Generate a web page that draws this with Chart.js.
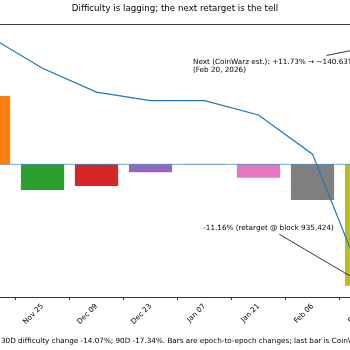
<!DOCTYPE html>
<html>
<head>
<meta charset="utf-8">
<script src="https://cdn.jsdelivr.net/npm/chart.js@4.4.1/dist/chart.umd.min.js"></script>
<style>
  html, body { margin: 0; padding: 0; background: #fff; }
  #wrap { width: 350px; height: 350px; }
</style>
</head>
<body>
<div id="wrap"><canvas id="chart" width="350" height="350"></canvas></div>
<script>
// epoch dates (x categories), epoch-to-epoch difficulty change (%), difficulty (T)
const epochDates = ['Oct 28', 'Nov 11', 'Nov 25', 'Dec 09', 'Dec 23', 'Jan 07', 'Jan 21', 'Feb 06', 'Feb 07', 'Feb 20'];
const epochChange = [1.6, 6.29, -2.36, -1.99, -0.74, 0.03, -1.23, -3.28, -11.16, 11.73];
const difficultyT = [146.5, 155.7, 151.9, 149.1, 148.1, 148.1, 146.4, 141.8, 125.9];
const barColors = ['#1f77b4', '#ff7f0e', '#2ca02c', '#d62728', '#9467bd', '#8c564b', '#e377c2', '#7f7f7f', '#bcbd22', '#17becf'];

const chartTitle = 'Difficulty is lagging; the next retarget is the tell';
const footNote = '30D difficulty change -14.07%; 90D -17.34%. Bars are epoch-to-epoch changes; last bar is CoinWarz estimate.';
const retargetNote = ['-11.16% (retarget @ block 935,424)'];
const nextNote = ['Next (CoinWarz est.): +11.73% \u2192 ~140.63T', '(Feb 20, 2026)'];

const FONT = 'DejaVu Sans';

const extras = {
    id: 'extras',
    afterDatasetDraw(chart, args) {
        if (args.index !== 0) return;
        const { ctx, chartArea, scales } = chart;
        const y0 = scales.y.getPixelForValue(0);
        ctx.save();
        ctx.strokeStyle = 'rgba(31, 119, 180, 0.5)';
        ctx.lineWidth = 1.2;
        ctx.beginPath();
        ctx.moveTo(chartArea.left, y0);
        ctx.lineTo(chartArea.right, y0);
        ctx.stroke();
        ctx.restore();
    },
    afterDraw(chart) {
        const { ctx, chartArea, scales } = chart;
        const x = scales.x;
        const y = scales.y;
        ctx.save();

        // top spine
        ctx.strokeStyle = '#000';
        ctx.lineWidth = 0.8;
        ctx.beginPath();
        ctx.moveTo(chartArea.left, chartArea.top + 0.5);
        ctx.lineTo(chartArea.right, chartArea.top + 0.5);
        ctx.stroke();

        // annotations with a plain connector line
        const lineH = 8.7;
        ctx.font = `7.24px "${FONT}"`;
        ctx.fillStyle = '#000';
        ctx.textBaseline = 'middle';
        const notes = [
            { lines: retargetNote, at: [6.185, -5.85], align: 'center', target: [8, epochChange[8]] },
            { lines: nextNote, at: [4.787, 9.03], align: 'left', target: [9, epochChange[9]] }
        ];
        notes.forEach((n) => {
            const w = Math.max(...n.lines.map(t => ctx.measureText(t).width));
            const h = n.lines.length * lineH;
            const px = x.getPixelForValue(n.at[0]);
            const cy = y.getPixelForValue(n.at[1]);
            const cx = n.align === 'center' ? px : px + w / 2;
            ctx.textAlign = n.align;
            n.lines.forEach((t, i) => {
                ctx.fillText(t, px, cy - h / 2 + lineH * (i + 0.5));
            });
            const tx = x.getPixelForValue(n.target[0]);
            const ty = y.getPixelForValue(n.target[1]);
            const dx = tx - cx;
            const dy = ty - cy;
            const hw = w / 2 + 2;
            const hh = h / 2 + 2;
            const t = Math.min(Math.abs(hw / dx), Math.abs(hh / dy));
            ctx.strokeStyle = '#000';
            ctx.lineWidth = 0.8;
            ctx.beginPath();
            ctx.moveTo(cx + dx * t, cy + dy * t);
            ctx.lineTo(tx, ty);
            ctx.stroke();
        });

        // footnote
        ctx.textAlign = 'left';
        ctx.font = `7.24px "${FONT}"`;
        ctx.fillText(footNote, 1, 341.5);
        ctx.restore();
    }
};

new Chart(document.getElementById('chart'), {
    type: 'bar',
    data: {
        datasets: [
            {
                label: 'Epoch change (%)',
                data: epochChange.map((v, i) => ({ x: i, y: v })),
                backgroundColor: barColors,
                barPercentage: 0.8,
                categoryPercentage: 1.0,
                yAxisID: 'y',
                order: 2
            },
            {
                type: 'line',
                label: 'Difficulty (T)',
                data: difficultyT.map((v, i) => ({ x: i, y: v })),
                borderColor: '#1f77b4',
                borderWidth: 1.2,
                pointRadius: 0,
                tension: 0,
                yAxisID: 'y2',
                order: 1
            }
        ]
    },
    options: {
        responsive: false,
        animation: false,
        layout: { padding: 0 },
        plugins: {
            legend: { display: false },
            tooltip: { enabled: false },
            title: {
                display: true,
                text: chartTitle,
                color: '#000',
                font: { family: FONT, size: 8.7, weight: 'normal' },
                padding: { top: 4, bottom: 9.6 }
            }
        },
        scales: {
            x: {
                type: 'linear',
                min: 1.213,
                max: 7.694,
                offset: false,
                afterBuildTicks(axis) {
                    axis.ticks = epochDates.map((d, i) => ({ value: i }));
                },
                afterFit(axis) {
                    axis.height = 53;
                    axis.paddingLeft = 0;
                    axis.paddingRight = 0;
                },
                ticks: {
                    autoSkip: false,
                    minRotation: 45,
                    maxRotation: 45,
                    padding: 2,
                    color: '#000',
                    font: { family: FONT, size: 7.24 },
                    callback: (v) => epochDates[v]
                },
                grid: {
                    drawOnChartArea: false,
                    tickLength: 3,
                    tickColor: '#000',
                    tickWidth: 0.8
                },
                border: { color: '#000', width: 0.8 }
            },
            y: { display: false, min: -12.2, max: 12.9 },
            y2: { display: false, min: 125.0, max: 157.1 }
        }
    },
    plugins: [extras]
});
</script>
</body>
</html>
